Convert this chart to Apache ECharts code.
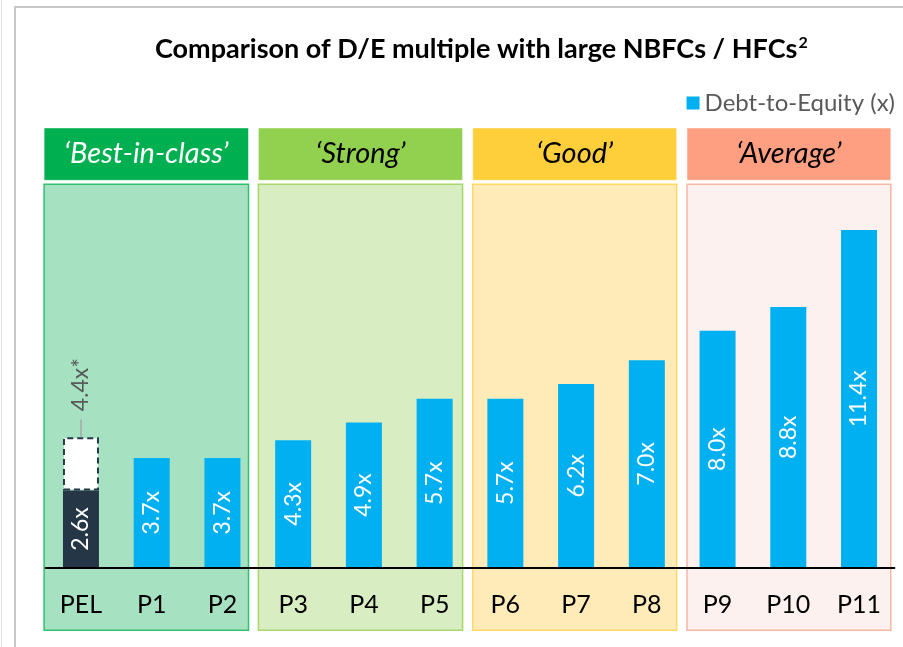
<!DOCTYPE html>
<html>
<head>
<meta charset="utf-8">
<script src="https://cdn.jsdelivr.net/npm/echarts@6/dist/echarts.min.js"></script>
<style>
  html, body { margin: 0; padding: 0; background: #fff; }
  #chart { width: 903px; height: 647px; }
</style>
</head>
<body>
<div id="chart"></div>
<script>
// values
const categories = ['PEL', 'P1', 'P2', 'P3', 'P4', 'P5', 'P6', 'P7', 'P8', 'P9', 'P10', 'P11'];
const debtToEquity = [2.6, 3.7, 3.7, 4.3, 4.9, 5.7, 5.7, 6.2, 7.0, 8.0, 8.8, 11.4];
const pelAdjusted = 4.4; // dashed box, "4.4x*"

const groupNames = ['\u2018Best-in-class\u2019', '\u2018Strong\u2019', '\u2018Good\u2019', '\u2018Average\u2019'];
const groupStart = [0, 3, 6, 9];
const groupEnd = [2, 5, 8, 11];

const groupStyle = [
    {head: '#00B050', text: '#ffffff', fill: '#A6E2C1', border: '#33C06E'},
    {head: '#92D050', text: '#000000', fill: '#D8EDC2', border: '#A6D86C'},
    {head: '#FFCF3B', text: '#000000', fill: '#FFEBB8', border: '#FFD966'},
    {head: '#FF9F82', text: '#000000', fill: '#FCF1EE', border: '#F8B6A4'}
];

const FONT = 'Lato';
const BLUE = '#00B0F0';
const DARK = '#253746';

const groupData = groupNames.map((n, i) => [groupStart[i], groupEnd[i], n]);

const baseData = debtToEquity.map((v, i) => i === 0
    ? {value: v, itemStyle: {color: DARK}}
    : v);
const extraData = categories.map((c, i) => i === 0 ? +(pelAdjusted - debtToEquity[0]).toFixed(2) : '-');

const chart = echarts.init(document.getElementById('chart'));

chart.setOption({
    animation: false,
    backgroundColor: '#ffffff',
    title: {
        text: 'Comparison of D/E multiple with large NBFCs / HFCs{sup|2}',
        left: 150,
        top: 30,
        textStyle: {
            fontFamily: FONT,
            fontWeight: 'bold',
            fontSize: 27,
            color: '#000',
            rich: {
                sup: {fontFamily: FONT, fontWeight: 'bold', fontSize: 16, verticalAlign: 'top', padding: [0, 0, 12, 1], color: '#000'}
            }
        }
    },
    legend: {
        data: ['Debt-to-Equity (x)'],
        right: 3,
        top: 86,
        icon: 'rect',
        itemWidth: 13,
        itemHeight: 13,
        itemGap: 8,
        textStyle: {fontFamily: FONT, fontSize: 24, color: '#595959'}
    },
    graphic: [
        {type: 'rect', shape: {x: 15, y: 7, width: 900, height: 660}, style: {fill: 'none', stroke: '#C8C8C8', lineWidth: 2}, z: 0},
        {type: 'line', shape: {x1: 1.5, y1: 0, x2: 1.5, y2: 647}, style: {stroke: '#E0E0E0', lineWidth: 1}, z: 0}
    ],
    grid: {left: 45.6, right: 8.6, top: 123.5, bottom: 79.5, outerBoundsMode: 'none', containLabel: false},
    xAxis: {
        type: 'category',
        data: categories,
        axisLine: {show: true, lineStyle: {color: '#000', width: 2}},
        axisTick: {show: false},
        axisLabel: {fontFamily: FONT, fontSize: 25, color: '#000', margin: 25},
        z: 10
    },
    yAxis: {
        type: 'value',
        min: 0,
        max: 15,
        show: false,
        splitLine: {show: false}
    },
    series: [
        {
            type: 'custom',
            name: 'groups',
            data: groupData,
            encode: {x: [0, 1]},
            clip: false,
            silent: true,
            z: 1,
            renderItem: function (params, api) {
                const i = params.dataIndex;
                const st = groupStyle[i];
                const bw = api.size([1, 0])[0];
                const x0 = api.coord([api.value(0), 0])[0] - bw / 2 - 1.5 + 2.1 * i;
                const x1 = api.coord([api.value(1), 0])[0] + bw / 2 - 9.3 + 1.9 * i;
                const headTop = api.coord([0, 14.85])[1];
                const headBot = api.coord([0, 13.08])[1];
                const panTop = api.coord([0, 12.95])[1];
                const panBot = api.coord([0, -2.12])[1];
                return {
                    type: 'group',
                    children: [
                        {
                            type: 'rect',
                            shape: {x: x0, y: headTop, width: x1 - x0, height: headBot - headTop},
                            style: {fill: st.head, stroke: 'rgba(255,255,255,0.5)', lineWidth: 1}
                        },
                        {
                            type: 'text',
                            x: (x0 + x1) / 2,
                            y: (headTop + headBot) / 2,
                            style: {
                                text: groupNames[i],
                                fill: st.text,
                                font: 'italic 29px ' + FONT,
                                align: 'center',
                                verticalAlign: 'middle'
                            }
                        },
                        {
                            type: 'rect',
                            shape: {x: x0, y: panTop, width: x1 - x0, height: panBot - panTop},
                            style: {fill: st.fill, stroke: st.border, lineWidth: 1.5}
                        }
                    ]
                };
            }
        },
        {
            type: 'bar',
            name: 'Debt-to-Equity (x)',
            stack: 'de',
            data: baseData,
            barWidth: 36,
            itemStyle: {color: BLUE},
            z: 3,
            label: {
                show: true,
                position: 'inside',
                rotate: 90,
                fontFamily: FONT,
                fontSize: 23,
                color: '#ffffff',
                formatter: p => Number(p.value).toFixed(1) + 'x'
            }
        },
        {
            type: 'bar',
            name: 'adjusted',
            stack: 'de',
            data: extraData,
            barWidth: 36,
            z: 3,
            itemStyle: {color: '#ffffff', borderColor: DARK, borderWidth: 2, borderType: [6, 4]},
            label: {
                show: true,
                position: 'top',
                distance: 26,
                rotate: 90,
                align: 'left',
                verticalAlign: 'middle',
                fontFamily: FONT,
                fontSize: 23,
                color: '#595959',
                formatter: () => pelAdjusted.toFixed(1) + 'x*'
            },
            markLine: {
                silent: true,
                symbol: 'none',
                label: {show: false},
                lineStyle: {color: '#A6A6A6', type: 'solid', width: 1.5},
                data: [[{coord: ['PEL', pelAdjusted]}, {coord: ['PEL', pelAdjusted + 0.6]}]]
            }
        }
    ]
});
</script>
</body>
</html>
